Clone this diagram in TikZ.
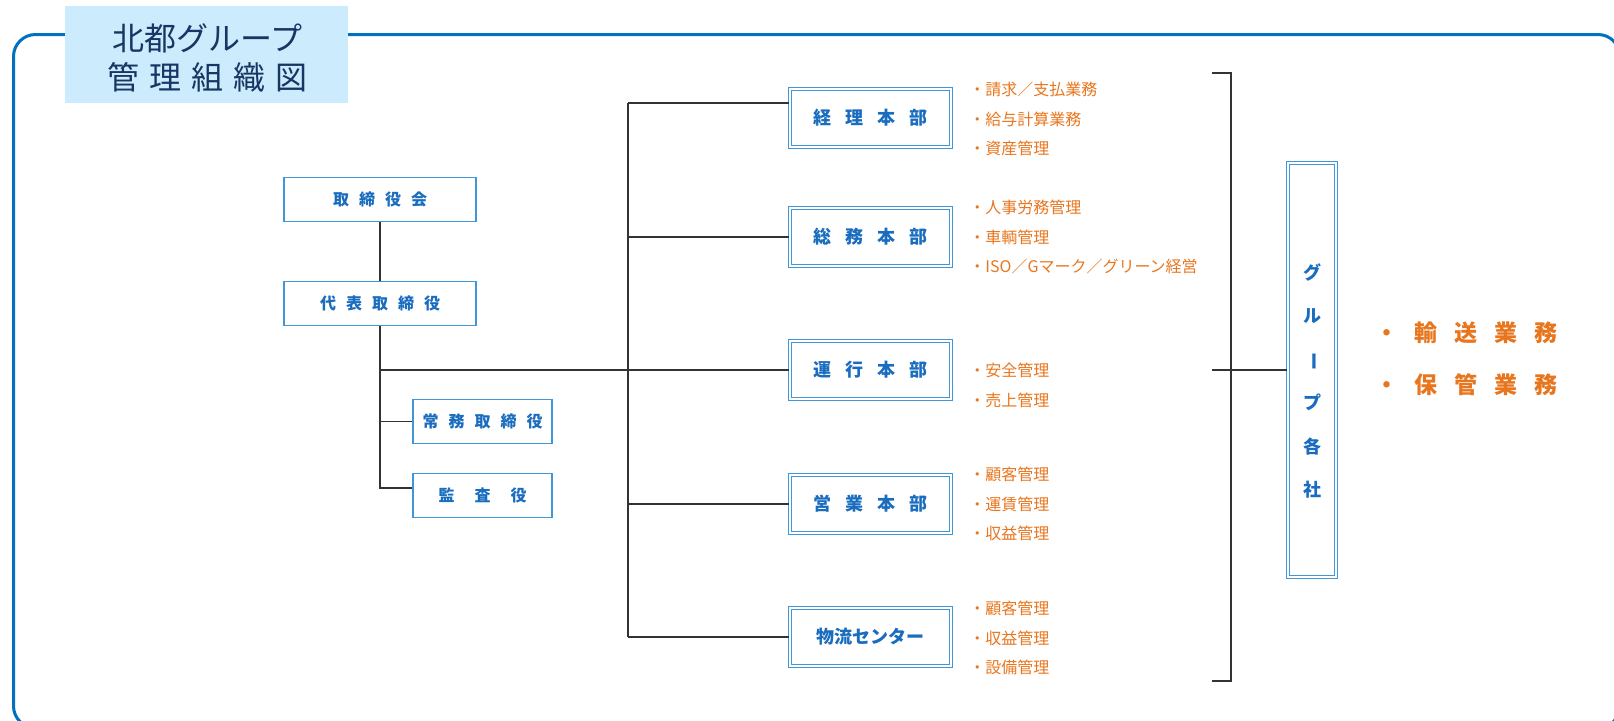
\documentclass[tikz,border=0pt]{standalone}
\usepackage{fontspec}
\usepackage{graphicx}
\newfontfamily\jp{Noto Sans CJK JP}
\definecolor{frameblue}{RGB}{0,112,192}
\definecolor{titlefill}{RGB}{204,235,252}
\definecolor{titletext}{RGB}{23,54,100}
\definecolor{boxline}{RGB}{65,150,215}
\definecolor{boxtext}{RGB}{25,108,190}
\definecolor{itemorange}{RGB}{232,118,30}
\definecolor{linegray}{RGB}{51,51,51}
\tikzset{
  lbox/.style={draw=boxline, line width=0.75pt, fill=white, minimum width=96pt, minimum height=22pt, inner sep=0pt, font=\jp\bfseries\fontsize{8}{10}\selectfont, text=boxtext},
  sbox/.style={lbox, minimum width=69.5pt},
  dbox/.style={draw=boxline, double=white, double distance=0.9pt, line width=0.6pt, fill=white, minimum width=80.5pt, minimum height=29pt, inner sep=0pt, font=\jp\bfseries\fontsize{9}{11}\selectfont, text=boxtext},
  conn/.style={draw=linegray, line width=0.7pt},
  item/.style={anchor=west, text=itemorange, font=\jp\fontsize{8}{10}\selectfont, inner sep=0pt},
  bigitem/.style={anchor=west, text=itemorange, font=\jp\bfseries\fontsize{11.5}{13}\selectfont, inner sep=0pt}
}
\begin{document}
\begin{tikzpicture}[x=0.5pt,y=-0.5pt]
\useasboundingbox (0,0) rectangle (1614,720);
% frame
\draw[frameblue, line width=1.5pt, rounded corners=11pt] (13.5,34.5) rectangle (1620,728);
% title
\node[fill=titlefill, minimum width=141.5pt, minimum height=48.5pt, inner sep=0pt] (titlebg) at (206.5,54.5) {};
\node[align=center, text=titletext, font=\jp\fontsize{16}{19.5}\selectfont, inner sep=0pt] (title) at (207.5,57.5)
  {北都グループ\\管\hspace{5pt}理\hspace{5pt}組\hspace{5pt}織\hspace{5pt}図};
% left boxes
\node[lbox] (board) at (380,199.5) {取\hspace{5pt}締\hspace{5pt}役\hspace{5pt}会};
\node[lbox] (pres) at (380,303.5) {代\hspace{5pt}表\hspace{5pt}取\hspace{5pt}締\hspace{5pt}役};
\node[sbox] (jomu) at (482.5,421.5) {常\hspace{5pt}務\hspace{5pt}取\hspace{5pt}締\hspace{5pt}役};
\node[sbox] (kansa) at (482.5,495.5) {監\hspace{10pt}査\hspace{10pt}役};
% departments
\node[dbox] (keiri) at (870.5,118) {経\hspace{7pt}理\hspace{7pt}本\hspace{7pt}部};
\node[dbox] (somu) at (870.5,237) {総\hspace{7pt}務\hspace{7pt}本\hspace{7pt}部};
\node[dbox] (unko) at (870.5,370) {運\hspace{7pt}行\hspace{7pt}本\hspace{7pt}部};
\node[dbox] (eigyo) at (870.5,504) {営\hspace{7pt}業\hspace{7pt}本\hspace{7pt}部};
\node[dbox] (butsuryu) at (870.5,637) {物流センター};
% group box
\node[draw=boxline, double=white, double distance=0.9pt, line width=0.6pt, minimum width=24pt, minimum height=207pt, inner sep=0pt] (group) at (1312,370) {};
\node[text=boxtext, font=\jp\bfseries\fontsize{9}{21.75}\selectfont, align=center, inner sep=0pt] (grouptext) at (1312,381)
  {グ\\ル\\\rotatebox[origin=c]{-90}{ー}\\プ\\各\\社};
% coordinates
\coordinate (tk1) at (380,370);
\coordinate (tk2) at (380,421.5);
\coordinate (tk3) at (380,488);
\coordinate (dtop) at (628,103);
\coordinate (dbot) at (628,637);
\coordinate (bt1) at (1212,73);
\coordinate (bt2) at (1231,73);
\coordinate (bb1) at (1212,681);
\coordinate (bb2) at (1231,681);
\coordinate (bm) at (1212,370);
% connectors
\draw[conn] (board.south) -- (pres.north);
\draw[conn] (pres.south) -- (tk3) -- (kansa.west |- tk3);
\draw[conn] (tk2) -- (jomu.west);
\draw[conn] (tk1) -- (unko.west);
\draw[conn] (dtop) -- (dbot);
\draw[conn] (dtop) -- (keiri.west |- dtop);
\draw[conn] (dtop |- somu.west) -- (somu.west);
\draw[conn] (dtop |- eigyo.west) -- (eigyo.west);
\draw[conn] (dbot) -- (butsuryu.west);
\draw[conn] (bt1) -- (bt2) -- (bb2) -- (bb1);
\draw[conn] (bm) -- (group.west);
% items
\node[item] (i1) at (969,89) {・請求／支払業務};
\node[item] (i2) at (969,119) {・給与計算業務};
\node[item] (i3) at (969,148) {・資産管理};
\node[item] (i4) at (969,207) {・人事労務管理};
\node[item] (i5) at (969,237) {・車輌管理};
\node[item] (i6) at (969,266) {・ISO／Gマーク／グリーン経営};
\node[item] (i7) at (969,370) {・安全管理};
\node[item] (i8) at (969,400) {・売上管理};
\node[item] (i9) at (969,474) {・顧客管理};
\node[item] (i10) at (969,504) {・運賃管理};
\node[item] (i11) at (969,533) {・収益管理};
\node[item] (i12) at (969,608) {・顧客管理};
\node[item] (i13) at (969,638) {・収益管理};
\node[item] (i14) at (969,667) {・設備管理};
% big items
\node[bigitem] (b1) at (1375,333) {・\hspace{8pt}輸\hspace{8.5pt}送\hspace{8.5pt}業\hspace{8.5pt}務};
\node[bigitem] (b2) at (1375,385) {・\hspace{8pt}保\hspace{8.5pt}管\hspace{8.5pt}業\hspace{8.5pt}務};
\end{tikzpicture}
\end{document}
